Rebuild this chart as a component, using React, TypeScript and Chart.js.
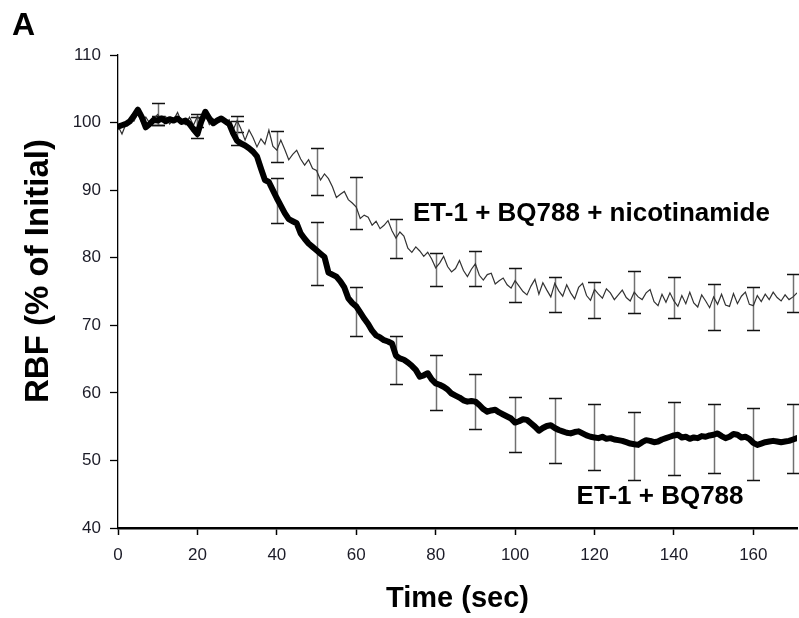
import React, { useEffect, useRef } from "react";
import { Chart, registerables } from "chart.js";

Chart.register(...registerables);

// ---- data ----
const X_MIN = 0;
const X_MAX = 171;
const Y_MIN = 40;
const Y_MAX = 110;
const xTickValues: number[] = [0, 20, 40, 60, 80, 100, 120, 140, 160];
const yTickValues: number[] = [40, 50, 60, 70, 80, 90, 100, 110];

// ET-1 + BQ788, one sample per second (t = 0..171 s)
const etBq788: number[] = [
  99.4, 99.6, 99.8, 100.2, 101.0, 101.9, 100.8, 99.3, 99.8, 100.4,
  100.3, 100.6, 100.2, 100.5, 100.3, 100.6, 100.1, 100.3, 99.8, 99.0,
  98.3, 100.2, 101.6, 100.6, 99.9, 100.3, 100.6, 100.2, 99.8, 98.4,
  97.3, 96.9, 96.6, 96.2, 95.7, 95.0, 93.2, 91.5, 91.2, 90.0,
  88.8, 87.7, 86.6, 85.7, 85.4, 85.1, 83.6, 82.8, 82.1, 81.6,
  81.1, 80.6, 80.1, 77.8, 77.5, 77.2, 76.5, 75.6, 74.0, 73.3,
  72.8, 71.9, 71.0, 70.2, 69.2, 68.5, 68.2, 67.8, 67.6, 67.3,
  65.5, 65.1, 64.9, 64.5, 64.0, 63.4, 62.4, 62.6, 62.9, 62.0,
  61.4, 61.2, 60.9, 60.5, 59.9, 59.6, 59.3, 58.9, 58.7, 58.8,
  58.7, 58.2, 57.6, 57.2, 57.4, 57.5, 57.1, 56.8, 56.5, 56.2,
  55.6, 55.8, 56.1, 56.0, 55.5, 55.0, 54.4, 54.8, 55.1, 55.2,
  54.8, 54.5, 54.3, 54.1, 54.0, 54.2, 54.3, 54.0, 53.7, 53.5,
  53.4, 53.3, 53.5, 53.2, 53.3, 53.1, 53.0, 52.9, 52.7, 52.5,
  52.4, 52.3, 52.7, 53.0, 52.9, 52.7, 52.8, 53.1, 53.3, 53.5,
  53.7, 53.8, 53.4, 53.5, 53.2, 53.4, 53.3, 53.6, 53.5, 53.7,
  53.8, 54.0, 53.6, 53.3, 53.5, 53.9, 53.8, 53.4, 53.5, 53.2,
  52.6, 52.3, 52.5, 52.7, 52.8, 52.9, 52.8, 52.7, 52.8, 52.9,
  53.1, 53.3,
];

// ET-1 + BQ788 + nicotinamide, one sample per second (t = 0..171 s)
const etBq788Nic: number[] = [
  99.5, 98.3, 99.8, 100.5, 100.2, 101.3, 100.0, 100.8, 99.9, 100.6,
  101.2, 100.3, 100.9, 99.8, 100.4, 101.5, 100.1, 99.7, 100.8, 99.6,
  100.9, 100.2, 101.2, 99.7, 100.5, 100.1, 100.8, 99.9, 100.4, 98.9,
  100.3, 99.0, 97.4, 98.9, 97.8, 96.4, 97.6, 96.8, 98.9, 96.5,
  95.9, 97.4, 96.0, 94.5, 95.3, 95.9, 94.6, 93.7, 94.5, 93.2,
  92.9, 91.5, 92.4, 91.7, 90.5, 88.9, 89.4, 89.8, 88.6, 88.1,
  87.5, 85.8, 86.3, 86.0, 84.8, 85.4, 84.3, 84.8, 85.5, 84.0,
  82.9, 83.8, 83.2, 81.4, 80.8, 81.6, 81.0, 80.2, 80.8, 79.8,
  78.5, 79.2, 80.2, 78.7, 77.9, 78.4, 79.6, 78.1, 77.2, 78.3,
  79.1, 77.4, 76.7, 77.5, 77.7, 76.1, 76.6, 77.0, 76.0, 75.5,
  76.6, 75.8, 75.0, 74.5, 75.8, 76.8, 74.6, 76.3, 75.2, 74.2,
  76.2, 75.1, 74.3, 76.0, 74.8, 73.9, 75.6, 76.2, 74.4, 73.7,
  75.3, 74.6, 74.0, 75.4, 74.8, 73.8, 74.5, 75.2, 74.1, 73.6,
  74.9, 74.2, 73.8, 74.8, 75.3, 73.5, 72.9, 74.6, 73.4, 74.8,
  73.6, 72.8, 74.4, 73.2, 74.9, 73.3, 72.7, 74.5, 73.6, 72.6,
  74.2, 73.1, 74.6, 73.0, 72.8, 74.7, 73.2, 74.3, 74.9, 73.1,
  72.9, 74.4, 73.5, 74.6, 73.8, 74.9, 74.1, 73.6, 74.5, 73.8,
  74.2, 74.8,
];

// error bars (every 10 s)
const errorTimes: number[] = [10, 20, 30, 40, 50, 60, 70, 80, 90, 100, 110, 120, 130, 140, 150, 160, 170];
const bqUpper: number[] = [101.0, 100.8, 100.3, 91.8, 85.3, 75.7, 68.4, 65.6, 62.8, 59.4, 59.2, 58.3, 57.2, 58.6, 58.3, 57.7, 58.3];
const bqLower: number[] = [99.6, 97.7, 96.7, 85.1, 76.0, 68.4, 61.3, 57.5, 54.7, 51.2, 49.6, 48.6, 47.1, 47.8, 48.1, 47.1, 48.1];
const nicUpper: number[] = [102.9, 101.2, 101.0, 98.7, 96.2, 92.0, 85.8, 80.7, 81.0, 78.5, 77.1, 76.4, 78.0, 77.1, 76.1, 75.7, 77.6];
const nicLower: number[] = [99.6, 99.4, 98.6, 94.2, 89.3, 84.3, 79.9, 75.8, 75.8, 73.4, 72.0, 71.1, 71.8, 71.1, 69.3, 69.3, 72.0];

// text
const panelLabel = "A";
const xTitle = "Time (sec)";
const yTitle = "RBF (% of Initial)";
const labelNic = "ET-1 + BQ788 + nicotinamide";
const labelBq = "ET-1 + BQ788";
// label anchors in data units [time, value]
const labelNicAt: [number, number] = [74.3, 85.4];
const labelBqAt: [number, number] = [115.5, 43.5];

const FONT = '"Liberation Sans", Arial, Helvetica, sans-serif';

const overlayPlugin = {
  id: "overlay",
  beforeDatasetsDraw(chart: any) {
    const { ctx, scales } = chart;
    const xs = scales.x;
    const ys = scales.y;
    ctx.save();
    const drawBars = (hi: number[], lo: number[]) => {
      errorTimes.forEach((t, i) => {
        const px = Math.round(xs.getPixelForValue(t)) + 0.5;
        const top = Math.round(ys.getPixelForValue(hi[i])) + 0.5;
        const bot = Math.round(ys.getPixelForValue(lo[i])) + 0.5;
        ctx.strokeStyle = "#707070";
        ctx.lineWidth = 1.5;
        ctx.beginPath();
        ctx.moveTo(px, top);
        ctx.lineTo(px, bot);
        ctx.stroke();
        ctx.strokeStyle = "#111";
        ctx.lineWidth = 1.5;
        ctx.beginPath();
        ctx.moveTo(px - 6.5, top);
        ctx.lineTo(px + 6.5, top);
        ctx.moveTo(px - 6.5, bot);
        ctx.lineTo(px + 6.5, bot);
        ctx.stroke();
      });
    };
    drawBars(nicUpper, nicLower);
    drawBars(bqUpper, bqLower);
    ctx.restore();
  },
  afterDraw(chart: any) {
    const { ctx, scales, chartArea } = chart;
    const xs = scales.x;
    const ys = scales.y;
    ctx.save();
    ctx.fillStyle = "#000";
    // panel label
    ctx.font = `bold 32px ${FONT}`;
    ctx.textAlign = "left";
    ctx.textBaseline = "alphabetic";
    ctx.fillText(panelLabel, 12, 35);
    // series labels
    ctx.font = `bold 26px ${FONT}`;
    ctx.fillText(labelNic, xs.getPixelForValue(labelNicAt[0]), ys.getPixelForValue(labelNicAt[1]));
    ctx.fillText(labelBq, xs.getPixelForValue(labelBqAt[0]), ys.getPixelForValue(labelBqAt[1]));
    // x title
    ctx.font = `bold 29px ${FONT}`;
    ctx.textAlign = "center";
    ctx.textBaseline = "middle";
    ctx.fillText(xTitle, (chartArea.left + chartArea.right) / 2, 599);
    // y title
    ctx.translate(39, 271);
    ctx.rotate(-Math.PI / 2);
    ctx.font = `bold 33px ${FONT}`;
    ctx.fillText(yTitle, 0, 0);
    ctx.restore();
  },
};

export default function App() {
  const ref = useRef<HTMLCanvasElement | null>(null);

  useEffect(() => {
    if (!ref.current) return;
    const toPoints = (arr: number[]) => arr.map((v, i) => ({ x: i, y: v }));
    const chart = new Chart(ref.current, {
      type: "line",
      data: {
        datasets: [
          {
            label: labelBq,
            data: toPoints(etBq788),
            borderColor: "#000",
            borderWidth: 6,
            borderJoinStyle: "round",
            borderCapStyle: "round",
            pointRadius: 0,
            tension: 0,
            fill: false,
          },
          {
            label: labelNic,
            data: toPoints(etBq788Nic),
            borderColor: "#333",
            borderWidth: 1.2,
            pointRadius: 0,
            tension: 0,
            fill: false,
          },
        ],
      },
      options: {
        animation: false,
        responsive: false,
        devicePixelRatio: 1,
        layout: { padding: { left: 0, top: 55, right: 2, bottom: 0 } },
        plugins: {
          legend: { display: false },
          tooltip: { enabled: false },
        },
        scales: {
          x: {
            type: "linear",
            min: X_MIN,
            max: X_MAX,
            afterFit: (s: any) => {
              s.height = 90;
            },
            afterBuildTicks: (s: any) => {
              s.ticks = xTickValues.map((v) => ({ value: v }));
            },
            ticks: {
              color: "#1c1c28",
              font: { family: FONT, size: 17 },
              padding: 10,
              maxRotation: 0,
              autoSkip: false,
            },
            grid: {
              drawOnChartArea: false,
              drawTicks: true,
              tickLength: 7,
              tickColor: "#000",
              tickWidth: 1.5,
            },
            border: { display: true, color: "#000", width: 2.5 },
          },
          y: {
            type: "linear",
            min: Y_MIN,
            max: Y_MAX,
            afterFit: (s: any) => {
              s.width = 118;
            },
            afterBuildTicks: (s: any) => {
              s.ticks = yTickValues.map((v) => ({ value: v }));
            },
            ticks: {
              color: "#1c1c28",
              font: { family: FONT, size: 17 },
              padding: 9,
              autoSkip: false,
            },
            grid: {
              drawOnChartArea: false,
              drawTicks: true,
              tickLength: 8,
              tickColor: "#000",
              tickWidth: 1.3,
            },
            border: { display: true, color: "#000", width: 1.3 },
          },
        },
      },
      plugins: [overlayPlugin],
    } as any);
    return () => chart.destroy();
  }, []);

  return (
    <div style={{ position: "fixed", left: 0, top: 0, width: 799, height: 618, background: "#fff" }}>
      <canvas ref={ref} width={799} height={618} style={{ display: "block" }} />
    </div>
  );
}
